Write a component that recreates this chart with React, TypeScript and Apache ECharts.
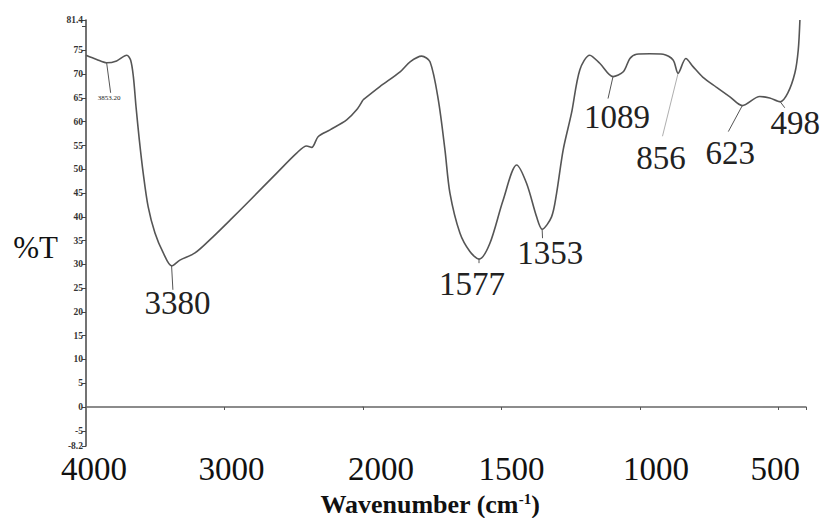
import React, { useEffect, useRef } from "react";
import * as echarts from "echarts";

// Wavenumber (cm-1) and %T
const wavenumbers = [
  4000, 3923, 3851, 3779, 3706, 3678, 3658, 3639, 3615, 3587, 3551, 3502, 3442, 3382, 3322, 3213,
  3083, 2960, 2816, 2623, 2479, 2407, 2370, 2323, 2238, 2118, 2046, 2000, 1939, 1866, 1830, 1788,
  1758, 1728, 1704, 1686, 1650, 1614, 1581, 1542, 1494, 1445, 1409, 1373, 1353, 1319, 1301, 1277,
  1247, 1217, 1181, 1145, 1097, 1060, 1036, 1012, 964, 916, 880, 862, 834, 808, 773, 724, 676, 630,
  567, 531, 493, 466, 440, 428, 422,
];
const transmittance = [
  74.0, 73.1, 72.4, 72.8, 74.0, 73.0, 69.5, 63.2, 56.2, 49.2, 42.1, 36.6, 32.4, 29.7, 30.9, 32.4,
  35.8, 39.3, 43.5, 49.2, 53.4, 54.9, 54.6, 56.9, 58.3, 60.4, 62.5, 64.6, 67.4, 70.5, 72.6, 73.8,
  72.6, 64.6, 54.1, 45.0, 36.6, 32.7, 31.1, 34.4, 43.5, 50.9, 47.0, 40.0, 37.4, 40.0, 44.9, 54.1,
  61.8, 70.9, 74.0, 72.3, 69.5, 70.5, 73.3, 74.2, 74.3, 74.2, 73.0, 70.2, 73.3, 71.6, 69.4, 67.3,
  65.3, 63.4, 65.3, 65.0, 64.2, 66.0, 70.3, 75.1, 81.4,
];

// Peak labels and the wavenumber of the curve point each leader attaches to
const peakLabels = ["3853.20", "3380", "1577", "1353", "1089", "856", "623", "498"];
const peakAnchors = [3851, 3382, 1581, 1353, 1097, 862, 630, 493];

// Axis ticks / labels
const yTickValues = [-8.2, -5, 0, 5, 10, 15, 20, 25, 30, 35, 40, 45, 50, 55, 60, 65, 70, 75, 80, 81.4];
const yLabelValues = [-8.2, -5, 0, 5, 10, 15, 20, 25, 30, 35, 40, 45, 50, 55, 60, 65, 70, 75, 81.4];
const xHighLabels = [4000, 3000];
const xLowLabels = [2000, 1500, 1000, 500];
const xHighTicks = [3000];
const xLowTicks = [2000, 1500, 1000, 500, 400];

// Layout (pixel offsets of leader ends and label centres from the anchor point)
const peakLayout = [
  { lx: 4, ly: 30, tx: 2.5, ty: 35, size: 7, lineColor: "#555", lineWidth: 1 },
  { lx: 1.3, ly: 24, tx: 6, ty: 37, size: 33, lineColor: "#555", lineWidth: 1 },
  { lx: 0, ly: 4, tx: -7, ty: 25, size: 33, lineColor: "#555", lineWidth: 1 },
  { lx: 0.4, ly: 9, tx: 8, ty: 24, size: 33, lineColor: "#555", lineWidth: 1 },
  { lx: -5, ly: 22, tx: 4, ty: 40, size: 33, lineColor: "#555", lineWidth: 1 },
  { lx: -15.6, ly: 63, tx: -17, ty: 85, size: 33, lineColor: "#999", lineWidth: 0.8 },
  { lx: -14, ly: 26, tx: -12, ty: 47, size: 33, lineColor: "#555", lineWidth: 1 },
  { lx: 4.5, ly: 6, tx: 15, ty: 21, size: 33, lineColor: "#555", lineWidth: 1 },
];
const xLabelShift: Record<number, number[]> = {
  4000: [0, 0, 0, 16],
  3000: [0, 0, 0, 14],
  2000: [0, 0, 0, 36],
  1500: [0, 0, 0, 20],
  1000: [0, 0, 0, 32],
  500: [0, 6, 0, 0],
};

const SERIF = "Liberation Serif";

export default function App() {
  const ref = useRef<HTMLDivElement>(null);
  useEffect(() => {
    document.body.style.margin = "0";
    if (!ref.current) return;
    const chart = echarts.init(ref.current, null, { renderer: "svg" });

    const high: number[][] = [];
    const low: number[][] = [];
    wavenumbers.forEach((w, i) => {
      if (w >= 2000) high.push([w, transmittance[i]]);
      if (w <= 2000) low.push([w, transmittance[i]]);
    });

    const rich: Record<string, any> = {};
    Object.keys(xLabelShift).forEach((k) => {
      rich["p" + k] = {
        fontSize: 33,
        fontFamily: SERIF,
        color: "#111",
        padding: xLabelShift[Number(k)],
      };
    });
    const xLabel = (values: number[]) => ({
      customValues: values,
      margin: 6,
      fontFamily: SERIF,
      fontSize: 33,
      formatter: (v: number) => `{p${v}|${v}}`,
      rich,
    });

    const commonY = {
      type: "value" as const,
      min: -8.2,
      max: 81.4,
      splitLine: { show: false },
    };

    chart.setOption({
      animation: false,
      backgroundColor: "#fff",
      textStyle: { fontFamily: SERIF },
      grid: [
        { left: 86, top: 20, width: 277, height: 426 },
        { left: 363, top: 20, width: 443, height: 426 },
      ],
      xAxis: [
        {
          type: "value",
          gridIndex: 0,
          min: 2000,
          max: 4000,
          inverse: true,
          splitLine: { show: false },
          axisLine: { lineStyle: { color: "#666", width: 1.5 } },
          axisTick: { customValues: xHighTicks, length: 3, lineStyle: { color: "#555" } },
          axisLabel: xLabel(xHighLabels),
        },
        {
          type: "value",
          gridIndex: 1,
          min: 400,
          max: 2000,
          inverse: true,
          splitLine: { show: false },
          axisLine: { lineStyle: { color: "#666", width: 1.5 } },
          axisTick: { customValues: xLowTicks, length: 3, lineStyle: { color: "#555" } },
          axisLabel: xLabel(xLowLabels),
        },
      ],
      yAxis: [
        {
          ...commonY,
          gridIndex: 0,
          axisLine: { show: true, lineStyle: { color: "#444", width: 1.5 } },
          axisTick: { show: true, customValues: yTickValues, length: 4, lineStyle: { color: "#444" } },
          axisLabel: {
            customValues: yLabelValues,
            margin: 3,
            fontSize: 9.5,
            fontFamily: SERIF,
            fontWeight: "bold",
            color: "#333",
          },
        },
        { ...commonY, gridIndex: 1, show: false },
      ],
      series: [
        {
          type: "line",
          xAxisIndex: 0,
          yAxisIndex: 0,
          data: high,
          smooth: 0.3,
          showSymbol: false,
          clip: false,
          lineStyle: { color: "#555", width: 1.6 },
        },
        {
          type: "line",
          xAxisIndex: 1,
          yAxisIndex: 1,
          data: low,
          smooth: 0.3,
          showSymbol: false,
          clip: false,
          lineStyle: { color: "#555", width: 1.6 },
        },
      ],
    });

    const graphics: any[] = [];
    peakAnchors.forEach((w, i) => {
      const idx = wavenumbers.indexOf(w);
      const t = transmittance[idx];
      const p = chart.convertToPixel({ seriesIndex: w >= 2000 ? 0 : 1 }, [w, t]) as number[];
      const L = peakLayout[i];
      graphics.push({
        type: "line",
        shape: { x1: p[0], y1: p[1], x2: p[0] + L.lx, y2: p[1] + L.ly },
        style: { stroke: L.lineColor, lineWidth: L.lineWidth },
        silent: true,
      });
      graphics.push({
        type: "text",
        x: p[0] + L.tx,
        y: p[1] + L.ty,
        style: {
          text: peakLabels[i],
          fontSize: L.size,
          fontFamily: SERIF,
          fill: "#222",
          align: "center",
          verticalAlign: "middle",
        },
        silent: true,
      });
    });
    graphics.push({
      type: "text",
      x: 35.5,
      y: 247,
      style: {
        text: "%T",
        fontSize: 31,
        fontFamily: SERIF,
        fill: "#111",
        align: "center",
        verticalAlign: "middle",
      },
    });
    graphics.push({
      type: "text",
      x: 430,
      y: 504,
      style: {
        text: "{b|Wavenumber (cm}{s|-1}{b|)}",
        align: "center",
        verticalAlign: "middle",
        fontFamily: SERIF,
        rich: {
          b: { fontSize: 26, fontWeight: "bold", fontFamily: SERIF, fill: "#111" },
          s: {
            fontSize: 15,
            fontWeight: "bold",
            fontFamily: SERIF,
            fill: "#111",
            verticalAlign: "top",
          },
        },
      },
    });
    chart.setOption({ graphic: graphics });

    return () => chart.dispose();
  }, []);
  return <div ref={ref} style={{ width: 823, height: 518 }} />;
}
